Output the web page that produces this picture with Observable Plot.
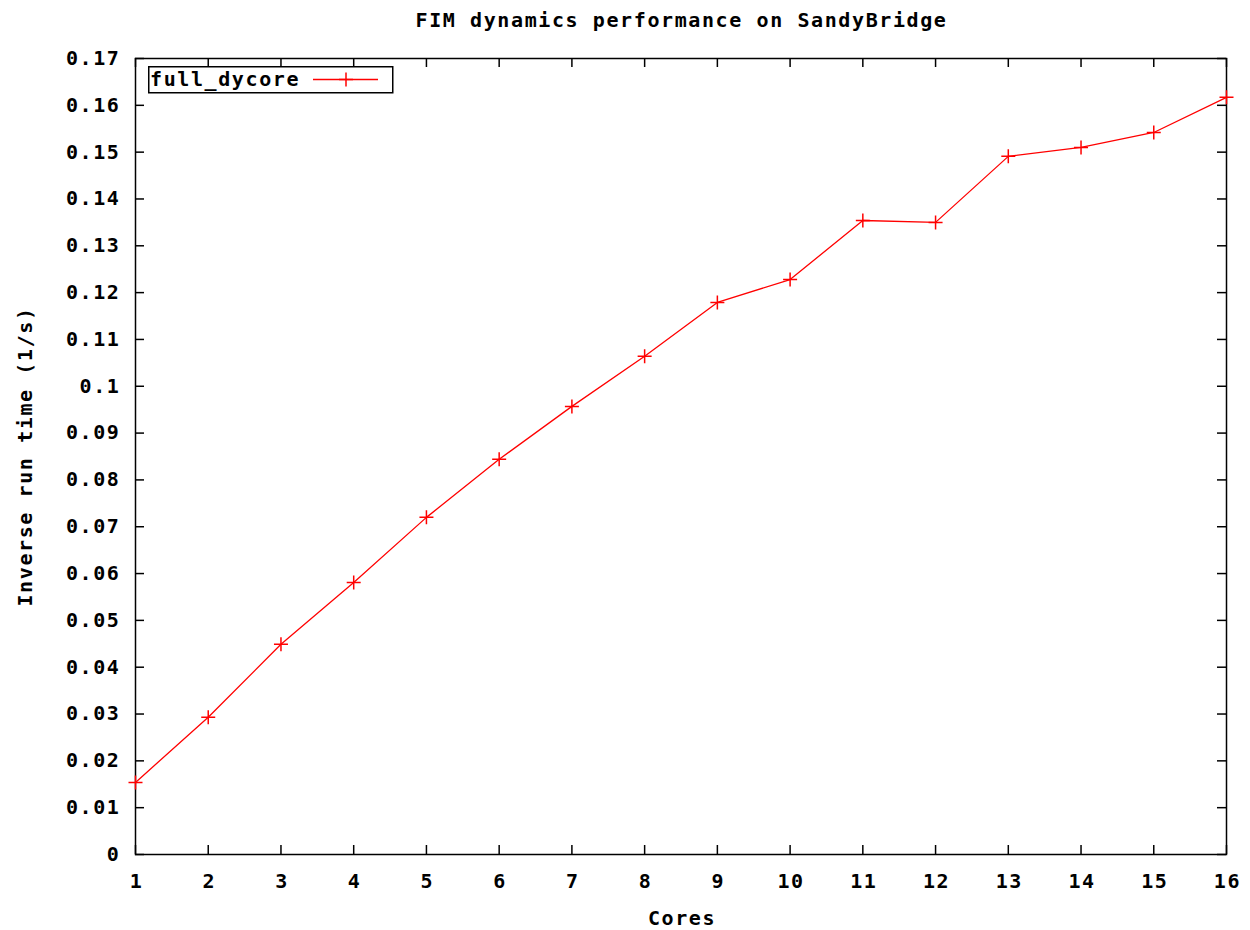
<!DOCTYPE html>
<html>
<head>
<meta charset="utf-8">
<script src="https://cdn.jsdelivr.net/npm/d3@7"></script>
<script src="https://cdn.jsdelivr.net/npm/@observablehq/plot@0.6"></script>
<style>
  html, body { margin: 0; padding: 0; background: #fff; }
  body { width: 1250px; height: 930px; position: relative; overflow: hidden;
         font-family: "DejaVu Sans Mono", monospace; font-weight: bold; font-size: 20px; }
  #title { height: 40px; line-height: 40px; width: 1250px; box-sizing: border-box;
           padding-left: 137px; padding-right: 24px; text-align: center; letter-spacing: 1.6px; color: #000; }
  #legend { position: absolute; left: 148px; top: 66px; }
</style>
</head>
<body>
<div id="title">FIM dynamics performance on SandyBridge</div>
<div id="chart"></div>
<svg id="legend" width="246" height="28">
  <rect x="0.75" y="0.75" width="244" height="26" fill="#fff" stroke="#000" stroke-width="1.5"></rect>
  <text x="2" y="20" font-family="DejaVu Sans Mono" font-weight="bold" font-size="20" letter-spacing="1.6" fill="#000">full_dycore</text>
  <line x1="165" x2="230" y1="13.5" y2="13.5" stroke="#ff0000" stroke-width="1.3"></line>
  <line x1="191" x2="205" y1="13.5" y2="13.5" stroke="#ff0000" stroke-width="1.5"></line>
  <line x1="198" x2="198" y1="6.5" y2="20.5" stroke="#ff0000" stroke-width="1.5"></line>
</svg>
<script>
const cores = [1, 2, 3, 4, 5, 6, 7, 8, 9, 10, 11, 12, 13, 14, 15, 16];
const inverseRunTime = [0.0154, 0.0293, 0.0449, 0.0581, 0.0720, 0.0844, 0.0957, 0.1064,
                        0.1179, 0.1228, 0.1354, 0.1350, 0.1491, 0.1510, 0.1542, 0.1617];
const yTicks = [0, 0.01, 0.02, 0.03, 0.04, 0.05, 0.06, 0.07, 0.08, 0.09, 0.1,
                0.11, 0.12, 0.13, 0.14, 0.15, 0.16, 0.17];
const yTickLabels = ["0", "0.01", "0.02", "0.03", "0.04", "0.05", "0.06", "0.07", "0.08", "0.09", "0.1",
                     "0.11", "0.12", "0.13", "0.14", "0.15", "0.16", "0.17"];
const xTicks = cores;
const xLabel = "Cores";
const yLabel = "Inverse run time (1/s)";
const seriesName = "full_dycore";

const data = cores.map((c, i) => ({cores: c, value: inverseRunTime[i]}));

const W = 1250, H = 890;
const mL = 135, mR = 24, mT = 18, mB = 76;
const fw = W - mL - mR, fh = H - mT - mB;

const plusSymbol = {
  draw(context, size) {
    const r = Math.sqrt(size / Math.PI);
    context.moveTo(-r, 0); context.lineTo(r, 0);
    context.moveTo(0, -r); context.lineTo(0, r);
  }
};

const chart = Plot.plot({
  width: W, height: H,
  marginLeft: mL, marginRight: mR, marginTop: mT, marginBottom: mB,
  style: "font-family: 'DejaVu Sans Mono', monospace; font-size: 20px; font-weight: bold; letter-spacing: 1.6px; color: #000; background: #fff; overflow: visible;",
  x: {domain: [1, 16], ticks: xTicks},
  y: {domain: [0, 0.17], ticks: yTicks},
  marks: [
    Plot.axisX(xTicks, {tickSize: 0, tickPadding: 19, tickFormat: d => String(d), label: null, dx: 1}),
    Plot.axisY(yTicks, {tickSize: 0, tickPadding: 15, tickFormat: (d) => yTickLabels[yTicks.indexOf(d)], label: null}),
    Plot.tickY(yTicks, {y: d => d, insetRight: fw - 9, stroke: "#000", strokeWidth: 1.5}),
    Plot.tickY(yTicks, {y: d => d, insetLeft: fw - 9, stroke: "#000", strokeWidth: 1.5}),
    Plot.tickX(xTicks, {x: d => d, insetTop: fh - 9, stroke: "#000", strokeWidth: 1.5}),
    Plot.tickX(xTicks, {x: d => d, insetBottom: fh - 9, stroke: "#000", strokeWidth: 1.5}),
    Plot.frame({stroke: "#000", strokeWidth: 1.5}),
    Plot.line(data, {x: "cores", y: "value", stroke: "#ff0000", strokeWidth: 1.3}),
    Plot.dot(data, {x: "cores", y: "value", symbol: plusSymbol, r: 7, stroke: "#ff0000", strokeWidth: 1.5, fill: "none"}),
    Plot.text([xLabel], {frameAnchor: "bottom", dy: 64, dx: 1, text: d => d, textAnchor: "middle", lineAnchor: "middle", fill: "#000"}),
    Plot.text([yLabel], {frameAnchor: "left", dx: -110, rotate: -90, text: d => d, textAnchor: "middle", lineAnchor: "middle", fill: "#000"})
  ]
});
document.getElementById("chart").appendChild(chart);
</script>
</body>
</html>
